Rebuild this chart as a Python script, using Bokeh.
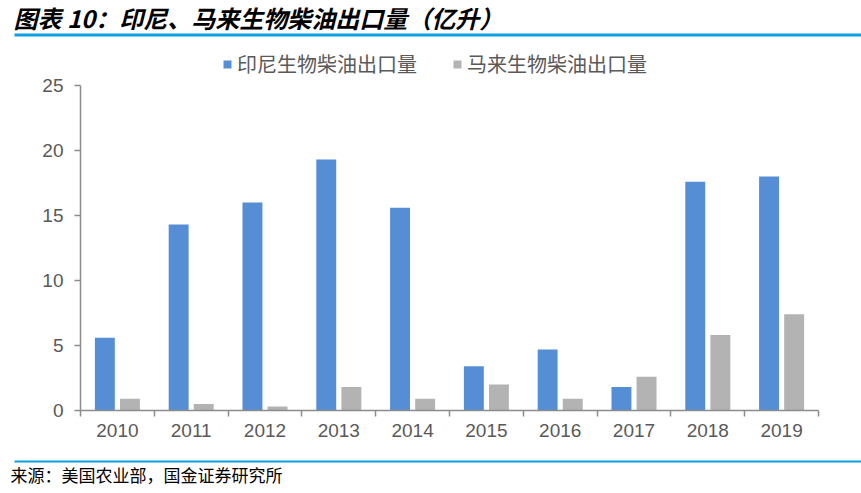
from bokeh.plotting import figure
from bokeh.models import (Range1d, FixedTicker, Legend, LegendItem, Label, BoxAnnotation,
                          ColumnDataSource)
from bokeh.transform import dodge
from bokeh.layouts import column
from bokeh.embed import file_html
from bokeh.resources import INLINE

years = ["2010", "2011", "2012", "2013", "2014", "2015", "2016", "2017", "2018", "2019"]
indonesia = [5.6, 14.3, 16.0, 19.3, 15.6, 3.4, 4.7, 1.8, 17.6, 18.0]
malaysia = [0.9, 0.5, 0.3, 1.8, 0.9, 2.0, 0.9, 2.6, 5.8, 7.4]
yticks = [0, 5, 10, 15, 20, 25]
title_text = "图表 10：印尼、马来生物柴油出口量（亿升）"
source_text = "来源：美国农业部，国金证券研究所"
name_id = "印尼生物柴油出口量"
name_my = "马来生物柴油出口量"

W = 861
H_TOP, H_MAIN, H_BOT = 44, 411, 38
rule_color = "#0AA0E3"
axis_color = "#8C8C8C"
label_color = "#595959"


def strip(height):
    f = figure(width=W, height=height, output_backend="svg", toolbar_location=None,
               x_range=Range1d(0, W), y_range=Range1d(height, 0),
               x_axis_type=None, y_axis_type=None)
    f.min_border_left = 0
    f.min_border_right = 0
    f.min_border_top = 0
    f.min_border_bottom = 0
    f.outline_line_color = None
    f.grid.visible = False
    f.frame_align = False
    return f


# ---- top strip: title + rule
top = strip(H_TOP)
top.add_layout(Label(x=13, y=17, text=title_text, text_font="Noto Sans CJK SC",
                     text_font_size="24px", text_font_style="bold italic",
                     text_color="black", text_baseline="middle", text_align="left"))
top.add_layout(BoxAnnotation(left=14, right=W, top=33, bottom=36,
                             fill_color=rule_color, fill_alpha=1, line_color=None))

# ---- main chart
FL, FR, FB = 80, 43, 45
unit_px = 13.0
y_top = (H_MAIN - FB) / unit_px

xs = [i + 0.5 for i in range(len(years))]
src = ColumnDataSource(dict(x=xs, idn=indonesia, mys=malaysia))

p = figure(width=W, height=H_MAIN, output_backend="svg", toolbar_location=None,
           x_range=Range1d(0, len(years)), y_range=Range1d(0, y_top))
p.min_border_left = FL
p.min_border_right = FR
p.min_border_top = 0
p.min_border_bottom = FB
p.outline_line_color = None
p.grid.visible = False
p.frame_align = False

r1 = p.vbar(x=dodge("x", -0.17), top="idn", width=0.27, source=src,
            fill_color="#558ED5", line_color=None)
r2 = p.vbar(x=dodge("x", 0.17), top="mys", width=0.27, source=src,
            fill_color="#B3B3B3", line_color=None)

ya = p.yaxis[0]
ya.ticker = FixedTicker(ticks=yticks)
ya.bounds = (0, 25)
ya.axis_line_color = axis_color
ya.axis_line_width = 1.5
ya.major_tick_line_color = axis_color
ya.major_tick_line_width = 1.5
ya.major_tick_out = 6
ya.major_tick_in = 0
ya.minor_tick_line_color = None
ya.major_label_text_font = "Liberation Sans"
ya.major_label_text_font_size = "19px"
ya.major_label_text_color = label_color
ya.major_label_standoff = 11

xa = p.xaxis[0]
xa.ticker = FixedTicker(ticks=xs, minor_ticks=list(range(len(years) + 1)))
xa.major_label_overrides = {x: y for x, y in zip(xs, years)}
xa.axis_line_color = axis_color
xa.axis_line_width = 1.5
xa.major_tick_line_color = None
xa.major_tick_out = 6
xa.major_tick_in = 0
xa.minor_tick_line_color = axis_color
xa.minor_tick_line_width = 1.5
xa.minor_tick_out = 6
xa.minor_tick_in = 0
xa.major_label_text_font = "Liberation Sans"
xa.major_label_text_font_size = "19px"
xa.major_label_text_color = label_color
xa.major_label_standoff = 7

legend = Legend(items=[LegendItem(label=name_id, renderers=[r1]),
                       LegendItem(label=name_my, renderers=[r2])],
                orientation="horizontal", location=(142, 332),
                glyph_width=10, glyph_height=10, label_standoff=5, spacing=35,
                padding=0, margin=0, border_line_color=None,
                background_fill_alpha=0,
                label_text_font="Noto Sans CJK SC", label_text_font_size="20px",
                label_text_color=label_color, label_height=24)
p.add_layout(legend, "center")

# ---- bottom strip: rule + source
bot = strip(H_BOT)
bot.add_layout(BoxAnnotation(left=14, right=W, top=5, bottom=7,
                             fill_color=rule_color, fill_alpha=1, line_color=None))
bot.add_layout(Label(x=10, y=19, text=source_text, text_font="Noto Sans CJK SC",
                     text_font_size="17px", text_color="black",
                     text_baseline="middle", text_align="left"))

layout = column(top, p, bot, spacing=0)
open("out.html", "w").write(file_html(layout, INLINE))
